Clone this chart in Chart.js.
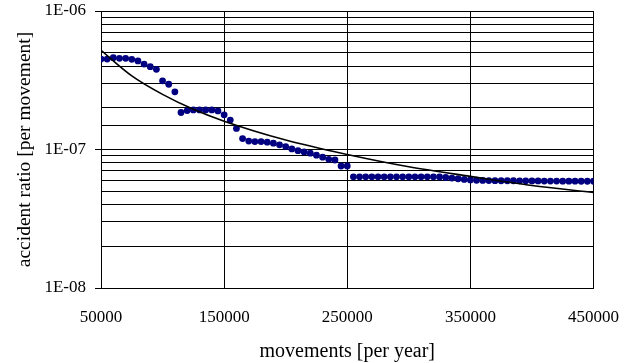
<!DOCTYPE html>
<html>
<head>
<meta charset="utf-8">
<script src="https://cdn.jsdelivr.net/npm/chart.js@4"></script>
<style>
  body { margin: 0; background: #fff; }
  #wrap { width: 638px; height: 363px; }
</style>
</head>
<body>
<div id="wrap"><canvas id="chart" width="638" height="363"></canvas></div>
<script>
// movements per year (x) for each observed point
const movements = [
  50000, 55000, 60000, 65000, 70000, 75000, 80000, 85000, 90000, 95000,
  100000, 105000, 110000, 115000, 120000, 125000, 130000, 135000, 140000, 145000,
  150000, 155000, 160000, 165000, 170000, 175000, 180000, 185000, 190000, 195000,
  200000, 205000, 210000, 215000, 220000, 225000, 230000, 235000, 240000, 245000,
  250000, 255000, 260000, 265000, 270000, 275000, 280000, 285000, 290000, 295000,
  300000, 305000, 310000, 315000, 320000, 325000, 330000, 335000, 340000, 345000,
  350000, 355000, 360000, 365000, 370000, 375000, 380000, 385000, 390000, 395000,
  400000, 405000, 410000, 415000, 420000, 425000, 430000, 435000, 440000, 445000,
  450000
];

// accident ratio per movement
const ratios = [
  4.50e-7, 4.50e-7, 4.60e-7, 4.55e-7, 4.55e-7, 4.48e-7, 4.36e-7, 4.14e-7, 3.96e-7, 3.79e-7,
  3.13e-7, 2.96e-7, 2.61e-7, 1.85e-7, 1.91e-7, 1.93e-7, 1.93e-7, 1.93e-7, 1.93e-7, 1.90e-7,
  1.78e-7, 1.63e-7, 1.42e-7, 1.20e-7, 1.15e-7, 1.14e-7, 1.14e-7, 1.13e-7, 1.11e-7, 1.08e-7,
  1.05e-7, 1.01e-7, 9.8e-8, 9.6e-8, 9.4e-8, 9.1e-8, 8.8e-8, 8.5e-8, 8.4e-8, 7.6e-8,
  7.6e-8, 6.35e-8, 6.35e-8, 6.35e-8, 6.35e-8, 6.35e-8, 6.35e-8, 6.35e-8, 6.35e-8, 6.35e-8,
  6.35e-8, 6.35e-8, 6.35e-8, 6.35e-8, 6.35e-8, 6.33e-8, 6.28e-8, 6.22e-8, 6.15e-8, 6.08e-8,
  6.03e-8, 6.0e-8, 5.98e-8, 5.97e-8, 5.96e-8, 5.95e-8, 5.95e-8, 5.95e-8, 5.94e-8, 5.94e-8,
  5.93e-8, 5.93e-8, 5.92e-8, 5.92e-8, 5.92e-8, 5.91e-8, 5.91e-8, 5.91e-8, 5.90e-8, 5.90e-8,
  5.90e-8
];

// trend curve
const trendX = [50000, 75000, 100000, 125000, 150000, 200000, 250000, 300000, 350000, 400000, 450000];
const trendY = [5.2e-7, 3.4e-7, 2.5e-7, 1.95e-7, 1.6e-7, 1.17e-7, 9.2e-8, 7.5e-8, 6.4e-8, 5.5e-8, 4.9e-8];

const xTicks = [50000, 150000, 250000, 350000, 450000];

const serif = "'Liberation Serif', 'DejaVu Serif', serif";

const isDecade = (v) => {
  const l = Math.log10(v);
  return Math.abs(l - Math.round(l)) < 1e-6;
};

new Chart(document.getElementById("chart"), {
  data: {
    datasets: [
      {
        type: "line",
        data: trendX.map((x, i) => ({ x, y: trendY[i] })),
        borderColor: "#000",
        borderWidth: 1.6,
        pointRadius: 0,
        fill: false,
        cubicInterpolationMode: "monotone",
      },
      {
        type: "scatter",
        data: movements.map((x, i) => ({ x, y: ratios[i] })),
        backgroundColor: "#000080",
        borderColor: "#000080",
        borderWidth: 0,
        pointRadius: 3.4,
      },
    ],
  },
  options: {
    responsive: false,
    animation: false,
    layout: { padding: { top: 11, right: 43, left: 0, bottom: 0 } },
    plugins: { legend: { display: false }, tooltip: { enabled: false } },
    scales: {
      x: {
        type: "linear",
        min: 50000,
        max: 450000,
        afterFit: (s) => { s.height = 75; },
        afterBuildTicks: (s) => { s.ticks = xTicks.map((v) => ({ value: v })); },
        grid: { color: "#000", lineWidth: 1, drawTicks: false },
        border: { color: "#000", width: 1 },
        ticks: {
          color: "#000",
          padding: 19,
          maxRotation: 0,
          font: { family: serif, size: 17 },
          callback: (v) => String(v),
        },
        title: {
          display: true,
          text: "movements [per year]",
          color: "#000",
          font: { family: serif, size: 20 },
          padding: { top: 0, bottom: -1 },
        },
      },
      y: {
        type: "logarithmic",
        min: 1e-8,
        max: 1e-6,
        afterFit: (s) => {
          s.width = 101;
          s.paddingTop = 0;
          s.paddingBottom = 0;
        },
        grid: {
          color: "#000",
          lineWidth: 1,
          tickLength: 6,
          tickColor: (ctx) => (ctx.tick && isDecade(ctx.tick.value) ? "#000" : "rgba(0,0,0,0)"),
        },
        border: { color: "#000", width: 1 },
        ticks: {
          color: "#000",
          padding: 9,
          autoSkip: false,
          font: { family: serif, size: 17 },
          callback: (v) => {
            if (!isDecade(v)) return "";
            const e = Math.round(Math.log10(v));
            return "1E-" + String(-e).padStart(2, "0");
          },
        },
        title: {
          display: true,
          text: "accident ratio [per movement]",
          color: "#000",
          font: { family: serif, size: 19.5 },
          padding: { top: 13, bottom: 0 },
        },
      },
    },
  },
});
</script>
</body>
</html>
